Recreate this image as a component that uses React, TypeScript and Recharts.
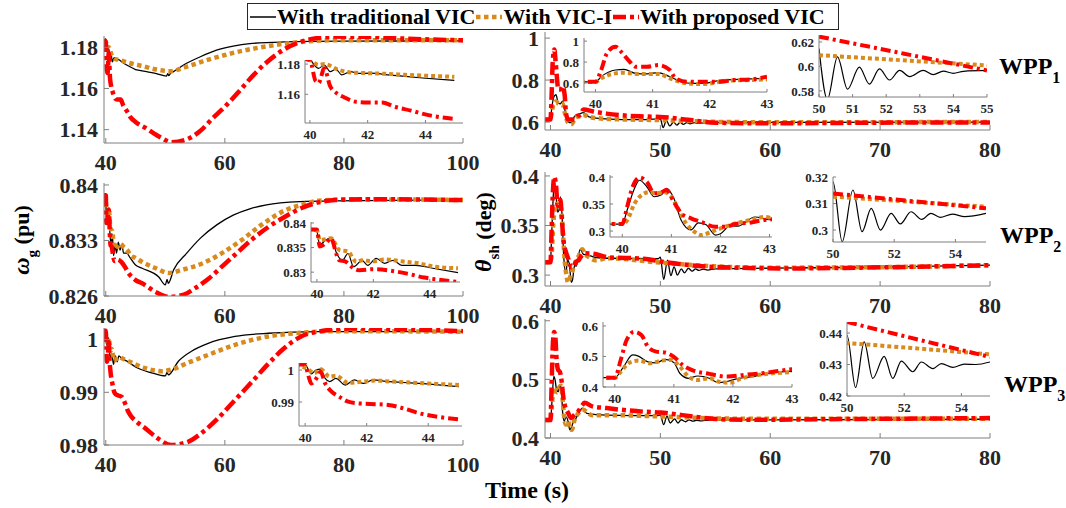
import React from 'react';
import { LineChart, Line, XAxis, YAxis } from 'recharts';

type Pt = [number, number];

// ---------------- DATA ----------------
// Generator speed, WPP1 (pu)
const omega1Trad: Pt[] = [[39.7,1.1837],[40,1.1837],[40.05,1.1821],[40.3,1.1772],[40.5,1.1794],[40.7,1.175],[40.9,1.1766],[41.1,1.1729],[41.4,1.175],[41.7,1.1738],[42.1,1.174],[42.7,1.1729],[43.3,1.1718],[43.9,1.1708],[45,1.1692],[45.7,1.1688],[48.5,1.1672],[50.2,1.166],[50.4,1.1672],[50.6,1.1662],[50.9,1.1675],[51.3,1.1681],[53,1.1713],[55.8,1.1753],[58.6,1.1786],[61.4,1.1806],[64.2,1.1818],[69.9,1.1826],[80,1.183],[100,1.1831]];
const omega1VicI: Pt[] = [[39.7,1.1837],[40,1.1826],[40.3,1.1794],[40.5,1.18],[41,1.1761],[41.4,1.1745],[42,1.174],[42.7,1.1735],[43.3,1.1729],[43.9,1.1724],[45,1.1716],[45.7,1.1712],[48.5,1.1692],[50.8,1.1684],[53.5,1.1705],[56.9,1.1737],[61.4,1.1773],[67.1,1.1805],[72.7,1.1826],[78.4,1.1834],[100,1.1834]];
const omega1Prop: Pt[] = [[39.7,1.1837],[40,1.1826],[40.2,1.1686],[40.3,1.1675],[40.5,1.1772],[40.7,1.1654],[40.9,1.1611],[41.2,1.1579],[41.6,1.155],[42,1.1546],[42.5,1.1546],[42.9,1.152],[43.5,1.1492],[44.1,1.1462],[45,1.1437],[46.8,1.1406],[49.1,1.1364],[51,1.1339],[53.5,1.1352],[55.8,1.1392],[58,1.1456],[60.3,1.152],[62.6,1.1593],[64.8,1.1665],[67.1,1.1729],[69.9,1.1789],[72.7,1.1826],[75.5,1.1845],[78.4,1.1852],[84,1.1851],[89.6,1.1843],[100,1.1834]];

// Generator speed, WPP2 (pu)
const omega2Trad: Pt[] = [[39.7,0.8387],[40,0.8382],[40.1,0.8355],[40.3,0.8365],[40.5,0.8369],[40.7,0.8338],[40.9,0.8324],[41.1,0.8338],[41.3,0.8311],[41.6,0.8324],[41.8,0.8314],[42.1,0.8328],[42.4,0.8318],[42.7,0.8324],[43,0.8314],[43.5,0.8314],[44.1,0.8308],[45,0.8299],[46.1,0.8295],[48.9,0.8284],[50,0.8274],[50.3,0.8281],[50.5,0.8276],[51.4,0.8293],[53.6,0.8314],[55.9,0.8333],[58.7,0.835],[61.4,0.8362],[64.2,0.837],[67,0.8375],[72.6,0.8379],[78.2,0.838],[100,0.8381]];
const omega2VicI: Pt[] = [[39.7,0.8387],[40,0.8385],[40.1,0.8365],[40.5,0.8369],[40.8,0.8345],[41.1,0.8342],[41.4,0.8321],[41.6,0.8324],[42,0.8322],[42.4,0.8326],[43,0.8322],[43.6,0.8318],[44.2,0.8311],[45,0.8308],[46.1,0.8303],[48.4,0.8295],[50.6,0.8289],[52.8,0.8293],[56.2,0.8301],[59.5,0.8314],[62.9,0.8331],[66.2,0.835],[70.1,0.8368],[72.9,0.8375],[75.7,0.838],[81.3,0.8382],[100,0.8381]];
const omega2Prop: Pt[] = [[39.7,0.8387],[40,0.8387],[40.1,0.8352],[40.3,0.8358],[40.5,0.8369],[40.7,0.8335],[40.8,0.8324],[41,0.8322],[41.3,0.8308],[41.5,0.8304],[42,0.8306],[42.6,0.8303],[43.2,0.8297],[43.8,0.8289],[44.4,0.8284],[45,0.828],[46.1,0.8276],[48.4,0.8265],[50.6,0.8259],[52.8,0.8261],[55,0.827],[57.3,0.8282],[59.5,0.8297],[61.7,0.8312],[64.5,0.8331],[67.3,0.8347],[70.1,0.836],[72.9,0.8371],[75.7,0.8378],[78.5,0.8381],[84,0.8382],[100,0.8381]];

// Generator speed, WPP3 (pu)
const omega3Trad: Pt[] = [[39.7,1.0016],[40,1.0016],[40.2,0.9988],[40.35,1.0],[40.5,1.0003],[40.65,0.9974],[40.8,0.9964],[41,0.9974],[41.3,0.9953],[41.6,0.9969],[41.9,0.9958],[42.2,0.9969],[42.7,0.9964],[43.2,0.9961],[43.7,0.9958],[45,0.9948],[47.7,0.9937],[50,0.9931],[50.3,0.9938],[50.5,0.9933],[52.2,0.9959],[54.4,0.9978],[57.2,0.9993],[61.7,1.0006],[67.3,1.0012],[75.7,1.0015],[100,1.0015]];
const omega3VicI: Pt[] = [[39.7,1.0016],[40.05,1.0005],[40.3,0.999],[40.5,1.0003],[40.8,0.9979],[41,0.9982],[41.4,0.996],[41.9,0.9964],[42.3,0.9967],[42.8,0.9964],[43.4,0.9961],[44,0.9958],[45,0.9953],[46.6,0.9946],[49.4,0.994],[51,0.9943],[53.8,0.9956],[57.2,0.9971],[61.7,0.999],[67.3,1.0006],[72.8,1.0013],[78.4,1.0016],[100,1.0015]];
const omega3Prop: Pt[] = [[39.7,1.0017],[40,1.0017],[40.1,0.9984],[40.2,0.9958],[40.4,0.9979],[40.5,0.9995],[40.65,0.9958],[40.8,0.9938],[41.1,0.9917],[41.4,0.9901],[41.7,0.9896],[42.1,0.9894],[42.7,0.9891],[43.2,0.988],[43.7,0.9865],[44.3,0.9854],[45,0.9846],[46.6,0.9832],[48.8,0.9812],[51,0.98],[53.8,0.9806],[56,0.9822],[58.8,0.985],[61.6,0.9884],[64.4,0.9918],[67.2,0.9953],[70,0.9984],[72.8,1.0006],[75.6,1.0015],[81.2,1.0021],[100,1.0016]];

// Shaft twist angle, WPP1 (deg)
const theta1Trad: Pt[] = [[39.5,0.61],[40,0.61],[40.1,0.66],[40.35,0.724],[40.5,0.73],[40.7,0.692],[40.9,0.687],[41.1,0.7],[41.3,0.66],[41.5,0.612],[41.7,0.597],[41.9,0.597],[42.2,0.628],[42.5,0.634],[43,0.645],[43.5,0.625],[45,0.615],[48,0.611],[50,0.6147],[50.25,0.573],[50.55,0.6078],[50.85,0.5814],[51.2,0.5994],[51.5,0.5856],[51.8,0.598],[52.1,0.5889],[52.4,0.5967],[52.7,0.5917],[53.1,0.5967],[53.4,0.5933],[53.7,0.5961],[54,0.5944],[54.3,0.596],[55,0.5967],[60,0.598],[80,0.6]];
const theta1VicI: Pt[] = [[39.5,0.61],[40,0.61],[40.1,0.645],[40.35,0.692],[40.5,0.698],[40.75,0.687],[41.1,0.687],[41.3,0.645],[41.6,0.597],[41.9,0.59],[42.3,0.622],[42.7,0.628],[43,0.634],[43.5,0.625],[45.1,0.615],[48,0.611],[50,0.6092],[52.5,0.605],[55,0.6008],[60,0.599],[80,0.6]];
const theta1Prop: Pt[] = [[39.5,0.612],[40,0.612],[40.1,0.724],[40.2,0.883],[40.35,0.946],[40.45,0.898],[40.6,0.803],[40.7,0.755],[40.9,0.755],[41.1,0.771],[41.3,0.724],[41.4,0.645],[41.6,0.612],[41.9,0.612],[42.2,0.612],[42.4,0.628],[42.7,0.634],[43,0.66],[43.9,0.65],[45.1,0.64],[48.1,0.627],[50,0.6244],[52.5,0.6106],[55,0.5967],[60,0.594],[70,0.597],[80,0.598]];

// Shaft twist angle, WPP2 (deg)
const theta2Trad: Pt[] = [[39.5,0.313],[40,0.313],[40.1,0.339],[40.25,0.379],[40.35,0.394],[40.5,0.382],[40.65,0.3635],[40.8,0.367],[40.9,0.379],[41.05,0.3605],[41.2,0.32],[41.4,0.302],[41.55,0.315],[41.7,0.312],[41.9,0.2926],[42,0.295],[42.2,0.31],[42.35,0.309],[42.7,0.326],[43,0.321],[43.5,0.32],[44,0.318],[45.2,0.317],[49.8,0.3165],[50,0.3182],[50.3,0.2956],[50.65,0.3151],[50.95,0.2994],[51.25,0.3082],[51.55,0.3],[51.9,0.3063],[52.2,0.3023],[52.55,0.3069],[52.9,0.304],[53.2,0.3063],[53.5,0.3048],[53.9,0.306],[54.3,0.3051],[55,0.3063],[60,0.307],[70,0.308],[80,0.31]];
const theta2VicI: Pt[] = [[39.5,0.313],[40,0.313],[40.1,0.32],[40.25,0.351],[40.4,0.367],[40.55,0.372],[40.7,0.37],[40.85,0.372],[41,0.3635],[41.15,0.339],[41.3,0.314],[41.45,0.3],[41.6,0.2926],[41.85,0.3],[42.1,0.308],[42.3,0.314],[42.6,0.32],[42.9,0.326],[43.1,0.322],[43.5,0.318],[44.1,0.315],[45.2,0.317],[50,0.3126],[55,0.3088],[60,0.3075],[70,0.308],[80,0.31]];
const theta2Prop: Pt[] = [[39.5,0.313],[40,0.313],[40.1,0.345],[40.2,0.379],[40.35,0.399],[40.5,0.391],[40.65,0.37],[40.8,0.372],[40.9,0.376],[41.05,0.354],[41.2,0.333],[41.4,0.3235],[41.6,0.317],[41.9,0.308],[42.1,0.308],[42.3,0.313],[42.6,0.3155],[42.85,0.32],[43.1,0.322],[43.9,0.3215],[45.2,0.318],[48.5,0.3165],[50,0.3138],[55,0.3082],[61.6,0.3067],[68.2,0.3075],[80,0.31]];

// Shaft twist angle, WPP3 (deg)
const theta3Trad: Pt[] = [[39.5,0.4305],[40,0.4305],[40.15,0.467],[40.3,0.505],[40.4,0.501],[40.55,0.483],[40.7,0.479],[40.85,0.4905],[41,0.4805],[41.1,0.445],[41.25,0.4285],[41.4,0.436],[41.6,0.4285],[41.75,0.414],[41.9,0.418],[42.1,0.4285],[42.3,0.433],[42.6,0.445],[42.95,0.451],[43.3,0.442],[45.1,0.439],[49.7,0.438],[50,0.4393],[50.3,0.4227],[50.6,0.4372],[50.9,0.4256],[51.3,0.4326],[51.6,0.4256],[51.9,0.4311],[52.3,0.4277],[52.6,0.4308],[53,0.4287],[53.3,0.4303],[53.7,0.4291],[54.1,0.4301],[54.5,0.43],[55,0.4308],[60,0.431],[80,0.432]];
const theta3VicI: Pt[] = [[39.5,0.4305],[40,0.4305],[40.1,0.45],[40.25,0.48],[40.4,0.4865],[40.6,0.478],[40.8,0.4865],[40.95,0.489],[41.1,0.467],[41.25,0.434],[41.4,0.423],[41.6,0.4285],[41.75,0.418],[41.95,0.414],[42.15,0.4285],[42.45,0.44],[42.95,0.448],[43.8,0.439],[45.1,0.439],[49.7,0.437],[50,0.4368],[53,0.4347],[55,0.4332],[58,0.433],[80,0.433]];
const theta3Prop: Pt[] = [[39.5,0.4305],[40,0.4305],[40.1,0.4885],[40.2,0.554],[40.33,0.581],[40.45,0.5705],[40.56,0.532],[40.7,0.516],[40.85,0.513],[41,0.499],[41.15,0.472],[41.3,0.456],[41.6,0.443],[41.9,0.434],[42.2,0.44],[42.5,0.445],[42.9,0.456],[43.1,0.46],[43.8,0.454],[45.1,0.451],[48.4,0.445],[50,0.4435],[52,0.439],[55,0.4324],[58.2,0.431],[64.8,0.432],[80,0.434]];

// Tick labels
const omegaXTicks = [40, 60, 80, 100];
const thetaXTicks = [40, 50, 60, 70, 80];
const omega1YTicks = [1.14, 1.16, 1.18];
const omega2YTicks = [0.826, 0.833, 0.84];
const omega3YTicks = [0.98, 0.99, 1];
const theta1YTicks = [0.6, 0.8, 1];
const theta2YTicks = [0.3, 0.35, 0.4];
const theta3YTicks = [0.4, 0.5, 0.6];
const insetOmegaXTicks = [40, 42, 44];
const insetEarlyXTicks = [40, 41, 42, 43];
const insetLateXTicks1 = [50, 51, 52, 53, 54, 55];
const insetLateXTicks = [50, 52, 54];

const legendLabels = ['With traditional VIC', 'With VIC-I', 'With proposed VIC'];

// ---------------- STYLES / LAYOUT ----------------
const FONT = '"Liberation Serif", "Times New Roman", Times, serif';
const COLORS = ['#000000', '#D98A1C', '#FF0000'];
const AXIS = '#7f7f7f';
const mainStyle = [
  { w: 1.3, d: undefined as string | undefined },
  { w: 4.5, d: '4.5 3.5' },
  { w: 4.5, d: '13 4 4 4' },
];
const insetStyle = [
  { w: 1.2, d: undefined as string | undefined },
  { w: 4, d: '4 3' },
  { w: 4, d: '10 4 3 4' },
];

interface Cfg {
  box: [number, number, number, number];
  x: [number, number];
  y: [number, number];
  xt: number[];
  yt: number[];
  s: Pt[][];
  inset?: boolean;
  maxT?: number;
}

function Panel(p: Cfg) {
  const [l, t, r, b] = p.box;
  const inset = !!p.inset;
  const ML = inset ? 44 : 72;
  const MR = inset ? 12 : 26;
  const MT = inset ? 10 : 14;
  const MB = inset ? 28 : 40;
  const W = r - l + ML + MR;
  const H = b - t + MT + MB;
  const fs = inset ? 13 : 22;
  const ts = inset ? -3 : -5;
  const tick = { fill: '#262626', fontSize: fs, fontFamily: FONT, fontWeight: 700 };
  const lo = p.x[0] - 0.6;
  const hi = p.maxT !== undefined ? p.maxT : p.x[1] + 0.6;
  const prep = (s: Pt[]) => s.filter(([x]) => x >= lo && x <= hi).map(([x, v]) => ({ x, v }));
  const st = inset ? insetStyle : mainStyle;
  return (
    <div style={{ position: 'absolute', left: l - ML, top: t - MT, width: W, height: H }}>
      <LineChart width={W} height={H} margin={{ top: MT, right: MR, bottom: 0, left: 0 }}>
        <XAxis
          type="number"
          dataKey="x"
          domain={p.x}
          ticks={p.xt}
          interval={0}
          allowDataOverflow
          height={MB}
          stroke={AXIS}
          tick={tick}
          tickSize={ts}
          tickMargin={inset ? 10 : 16.5}
        />
        <YAxis
          type="number"
          domain={p.y}
          ticks={p.yt}
          interval={0}
          allowDataOverflow
          width={ML}
          stroke={AXIS}
          tick={tick}
          tickSize={ts}
          tickMargin={inset ? 8 : 11}
        />
        {p.s.map((s, i) => (
          <Line
            key={i}
            data={prep(s)}
            dataKey="v"
            type="monotone"
            dot={false}
            activeDot={false}
            isAnimationActive={false}
            stroke={COLORS[i]}
            strokeWidth={st[i].w}
            strokeDasharray={st[i].d}
          />
        ))}
      </LineChart>
    </div>
  );
}

const omega1 = [omega1Trad, omega1VicI, omega1Prop];
const omega2 = [omega2Trad, omega2VicI, omega2Prop];
const omega3 = [omega3Trad, omega3VicI, omega3Prop];
const theta1 = [theta1Trad, theta1VicI, theta1Prop];
const theta2 = [theta2Trad, theta2VicI, theta2Prop];
const theta3 = [theta3Trad, theta3VicI, theta3Prop];

const panels: Cfg[] = [
  { box: [104, 36, 463, 143], x: [39.7, 100], y: [1.1335, 1.1855], xt: omegaXTicks, yt: omega1YTicks, s: omega1 },
  { box: [104, 183, 463, 296], x: [39.7, 100], y: [0.826, 0.84025], xt: omegaXTicks, yt: omega2YTicks, s: omega2 },
  { box: [104, 328, 463, 445], x: [39.7, 100], y: [0.98, 1.0022], xt: omegaXTicks, yt: omega3YTicks, s: omega3 },
  { box: [545, 32, 990, 130], x: [39.5, 80], y: [0.562, 1.029], xt: thetaXTicks, yt: theta1YTicks, s: theta1 },
  { box: [545, 172, 990, 286], x: [39.5, 80], y: [0.289, 0.404], xt: thetaXTicks, yt: theta2YTicks, s: theta2 },
  { box: [545, 319, 990, 438], x: [39.5, 80], y: [0.4, 0.603], xt: thetaXTicks, yt: theta3YTicks, s: theta3 },
  // insets
  { box: [305, 60, 463, 123], x: [39.83, 45.3], y: [1.141, 1.1827], xt: insetOmegaXTicks, yt: [1.16, 1.18], s: omega1, inset: true, maxT: 45 },
  { box: [311, 222, 460, 282], x: [39.79, 45.07], y: [0.828, 0.8402], xt: insetOmegaXTicks, yt: [0.83, 0.835, 0.84], s: omega2, inset: true, maxT: 45 },
  { box: [299, 363, 462, 426], x: [39.8, 45.1], y: [0.9825, 1.0022], xt: insetOmegaXTicks, yt: [0.99, 1], s: omega3, inset: true, maxT: 45 },
  { box: [584, 38, 767, 92], x: [39.8, 43.0], y: [0.514, 1.03], xt: insetEarlyXTicks, yt: [0.6, 0.8, 1], s: theta1, inset: true },
  { box: [819, 35, 987, 97], x: [50, 55], y: [0.575, 0.6257], xt: insetLateXTicks1, yt: [0.58, 0.6, 0.62], s: theta1, inset: true },
  { box: [610, 175, 772, 237], x: [39.75, 43.05], y: [0.289, 0.4037], xt: insetEarlyXTicks, yt: [0.3, 0.35, 0.4], s: theta2, inset: true },
  { box: [833, 177, 986, 242], x: [50, 55], y: [0.2955, 0.32], xt: insetLateXTicks, yt: [0.3, 0.31, 0.32], s: theta2, inset: true },
  { box: [603, 322, 792, 387], x: [39.8, 43], y: [0.4, 0.613], xt: insetEarlyXTicks, yt: [0.4, 0.5, 0.6], s: theta3, inset: true },
  { box: [847, 322, 990, 396], x: [50, 55], y: [0.42, 0.4435], xt: insetLateXTicks, yt: [0.42, 0.43, 0.44], s: theta3, inset: true },
];

function LegendSample({ i }: { i: number }) {
  return (
    <svg width={28} height={12} style={{ flex: 'none' }}>
      <line x1={1} x2={27} y1={6} y2={6} stroke={COLORS[i]} strokeWidth={i === 0 ? 1.5 : 4.5} strokeDasharray={mainStyle[i].d} />
    </svg>
  );
}

export default function App() {
  const wpp = [
    { x: 999, y: 74, n: '1' },
    { x: 1000, y: 243, n: '2' },
    { x: 1004, y: 392, n: '3' },
  ];
  return (
    <div style={{ position: 'absolute', left: 0, top: 0, width: 1066, height: 508, background: '#fff', overflow: 'hidden' }}>
      {panels.map((p, i) => (
        <Panel key={i} {...p} />
      ))}
      <svg width={1066} height={508} style={{ position: 'absolute', left: 0, top: 0, pointerEvents: 'none' }}>
        <g fontFamily={FONT} fontWeight={700} fill="#000">
          <text transform="translate(29,240) rotate(-90)" textAnchor="middle" fontSize={22}>
            <tspan fontStyle="italic" fontSize={24}>ω</tspan>
            <tspan fontSize={15} dy={8}>g</tspan>
            <tspan dy={-8}> (pu)</tspan>
          </text>
          <text transform="translate(491,232) rotate(-90)" textAnchor="middle" fontSize={22}>
            <tspan fontStyle="italic" fontSize={24}>θ</tspan>
            <tspan fontSize={15} dy={8}>sh</tspan>
            <tspan dy={-8}> (deg)</tspan>
          </text>
          <text x={527} y={498} textAnchor="middle" fontSize={24}>Time (s)</text>
          {wpp.map((w) => (
            <text key={w.n} x={w.x} y={w.y} fontSize={24}>
              WPP<tspan fontSize={16} dy={9}>{w.n}</tspan>
            </text>
          ))}
        </g>
      </svg>
      <div
        style={{
          position: 'absolute',
          left: 247,
          top: 3,
          width: 592,
          height: 27,
          boxSizing: 'border-box',
          border: '1px solid #262626',
          background: '#fff',
          display: 'flex',
          alignItems: 'center',
          fontFamily: FONT,
          fontWeight: 700,
          fontSize: 22,
          color: '#000',
          whiteSpace: 'nowrap',
          lineHeight: '25px',
          paddingLeft: 1,
        }}
      >
        {legendLabels.map((lab, i) => (
          <React.Fragment key={lab}>
            <LegendSample i={i} />
            <span>{lab}</span>
          </React.Fragment>
        ))}
      </div>
    </div>
  );
}
